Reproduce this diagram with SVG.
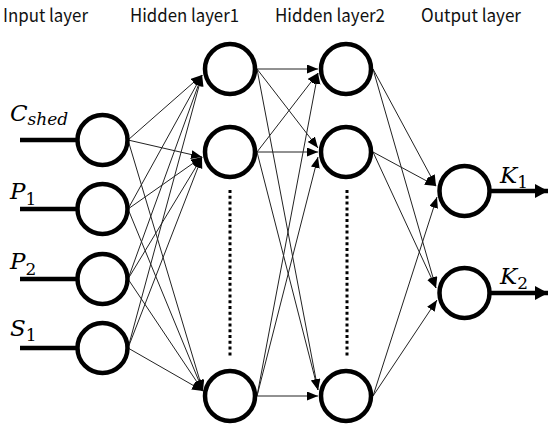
<svg xmlns="http://www.w3.org/2000/svg" width="550" height="430" viewBox="0 0 550 430">
<defs>
<marker id="ah" markerUnits="userSpaceOnUse" markerWidth="12" markerHeight="10" refX="11" refY="4.5" orient="auto">
<path d="M0,0 L11,4.5 L0,9 Z" fill="#000"/>
</marker>
<marker id="bh" markerUnits="userSpaceOnUse" markerWidth="14" markerHeight="14" refX="13" refY="7" orient="auto">
<path d="M0,0 L13,7 L0,14 Z" fill="#000"/>
</marker>
</defs>
<style>
.node{fill:#fff;stroke:#000;stroke-width:4.5}
.in{stroke:#000;stroke-width:4.5;fill:none}
.out{stroke:#000;stroke-width:4.5;fill:none;marker-end:url(#bh)}
.c{stroke:#222;stroke-width:1;fill:none;marker-end:url(#ah)}
.dots{stroke:#000;stroke-width:3;stroke-dasharray:3 2.8;fill:none}
.hdr{font-family:"Noto Sans CJK SC","Liberation Sans",sans-serif;font-size:18px;fill:#111}
.m{font-family:"DejaVu Serif","Liberation Serif",serif;font-style:italic;font-size:23px;fill:#000}
.s{font-size:17px}
.d{font-size:17px;font-style:normal}
</style>
<rect width="550" height="430" fill="#fff"/>
<g id="headers">
<text class="hdr" x="3" y="22" textLength="85" lengthAdjust="spacingAndGlyphs">Input layer</text>
<text class="hdr" x="130" y="22" textLength="109" lengthAdjust="spacingAndGlyphs">Hidden layer1</text>
<text class="hdr" x="275" y="22" textLength="110" lengthAdjust="spacingAndGlyphs">Hidden layer2</text>
<text class="hdr" x="421" y="22" textLength="100" lengthAdjust="spacingAndGlyphs">Output layer</text>
</g>
<g id="connectors">
<line class="c" x1="128" y1="140" x2="202" y2="75"/>
<line class="c" x1="128" y1="209" x2="202" y2="75"/>
<line class="c" x1="128" y1="279" x2="202" y2="75"/>
<line class="c" x1="128" y1="348" x2="202" y2="75"/>
<line class="c" x1="128" y1="140" x2="202" y2="157"/>
<line class="c" x1="128" y1="209" x2="202" y2="157"/>
<line class="c" x1="128" y1="279" x2="202" y2="157"/>
<line class="c" x1="128" y1="348" x2="202" y2="157"/>
<line class="c" x1="128" y1="140" x2="203" y2="391"/>
<line class="c" x1="128" y1="209" x2="203" y2="391"/>
<line class="c" x1="128" y1="279" x2="203" y2="391"/>
<line class="c" x1="128" y1="348" x2="203" y2="391"/>
<line class="c" x1="257" y1="69" x2="318" y2="69"/>
<line class="c" x1="257" y1="152" x2="318" y2="73"/>
<line class="c" x1="257" y1="396" x2="318" y2="73"/>
<line class="c" x1="257" y1="69" x2="318" y2="148"/>
<line class="c" x1="257" y1="152" x2="318" y2="152"/>
<line class="c" x1="257" y1="396" x2="318" y2="157"/>
<line class="c" x1="257" y1="69" x2="318" y2="390"/>
<line class="c" x1="257" y1="152" x2="318" y2="390"/>
<line class="c" x1="257" y1="396" x2="318" y2="396"/>
<line class="c" x1="373" y1="69" x2="436" y2="186"/>
<line class="c" x1="373" y1="152" x2="436" y2="186"/>
<line class="c" x1="373" y1="396" x2="437" y2="197"/>
<line class="c" x1="373" y1="69" x2="436" y2="288"/>
<line class="c" x1="373" y1="152" x2="436" y2="288"/>
<line class="c" x1="373" y1="396" x2="437" y2="300"/>
<line class="in" x1="20" y1="140" x2="78" y2="140"/>
<line class="in" x1="20" y1="209" x2="78" y2="209"/>
<line class="in" x1="20" y1="279" x2="78" y2="279"/>
<line class="in" x1="20" y1="348" x2="78" y2="348"/>
<line class="out" x1="490" y1="191" x2="548" y2="191"/>
<line class="out" x1="490" y1="293" x2="548" y2="293"/>
</g>
<g id="in-c"><circle class="node" cx="102.5" cy="140" r="25"/>
<text class="m" x="10" y="121">C<tspan class="s" dy="4">shed</tspan></text></g>
<g id="in-p1"><circle class="node" cx="102.5" cy="209" r="25"/>
<text class="m" x="10" y="199" font-size="25">P<tspan class="d" dy="6">1</tspan></text></g>
<g id="in-p2"><circle class="node" cx="102.5" cy="279" r="25"/>
<text class="m" x="10" y="269" font-size="25">P<tspan class="d" dy="6">2</tspan></text></g>
<g id="in-s1"><circle class="node" cx="102.5" cy="348" r="25"/>
<text class="m" x="10" y="336" font-size="25">S<tspan class="d" dy="5">1</tspan></text></g>
<g id="h1-1"><circle class="node" cx="230" cy="69" r="25"/></g>
<g id="h1-2"><circle class="node" cx="230" cy="152" r="25"/></g>
<g id="h1-dots"><line class="dots" x1="230" y1="190" x2="230" y2="358"/></g>
<g id="h1-n"><circle class="node" cx="230" cy="396" r="25"/></g>
<g id="h2-1"><circle class="node" cx="346" cy="69" r="25"/></g>
<g id="h2-2"><circle class="node" cx="346" cy="152" r="25"/></g>
<g id="h2-dots"><line class="dots" x1="347" y1="190" x2="347" y2="358"/></g>
<g id="h2-n"><circle class="node" cx="346" cy="396" r="25"/></g>
<g id="out-k1"><circle class="node" cx="464.5" cy="191" r="25"/>
<text class="m" x="500" y="183" font-size="23">K<tspan class="d" dy="5">1</tspan></text></g>
<g id="out-k2"><circle class="node" cx="464.5" cy="293" r="25"/>
<text class="m" x="500" y="284" font-size="23">K<tspan class="d" dy="5">2</tspan></text></g>
</svg>
